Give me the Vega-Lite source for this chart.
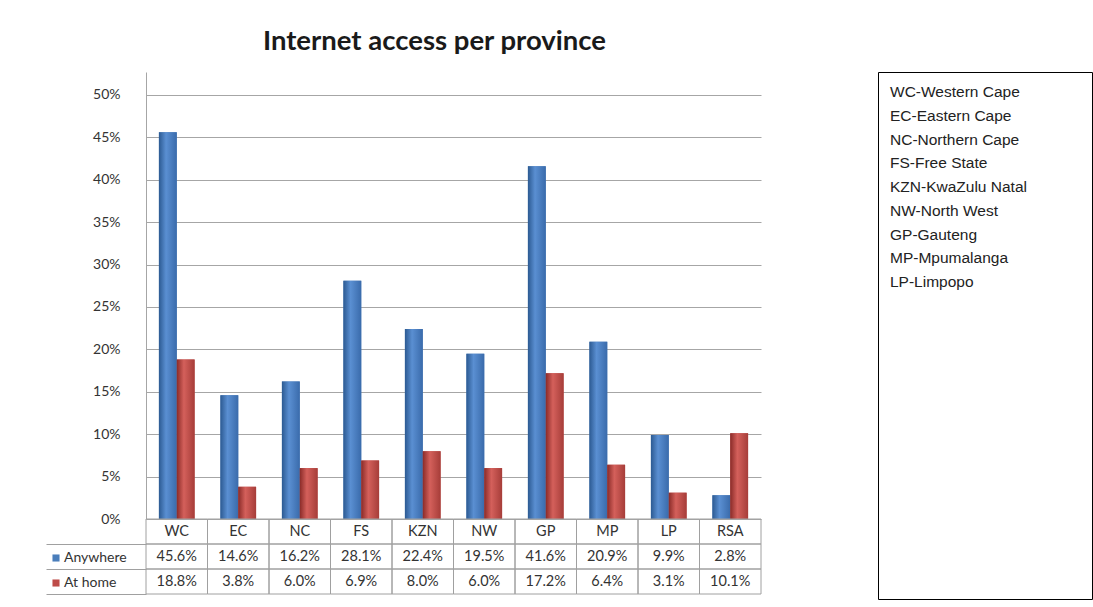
{
  "$schema": "https://vega.github.io/schema/vega-lite/v6.json",
  "padding": {"left": 45, "top": 27, "right": 0, "bottom": 0},
  "autosize": {"type": "pad"},
  "config": {"view": {"stroke": null}, "font": "Lato"},
  "datasets": {
    "access": [
      {"province": "WC", "series": "Anywhere", "value": 0.456},
      {"province": "EC", "series": "Anywhere", "value": 0.146},
      {"province": "NC", "series": "Anywhere", "value": 0.162},
      {"province": "FS", "series": "Anywhere", "value": 0.281},
      {"province": "KZN", "series": "Anywhere", "value": 0.224},
      {"province": "NW", "series": "Anywhere", "value": 0.195},
      {"province": "GP", "series": "Anywhere", "value": 0.416},
      {"province": "MP", "series": "Anywhere", "value": 0.209},
      {"province": "LP", "series": "Anywhere", "value": 0.099},
      {"province": "RSA", "series": "Anywhere", "value": 0.028},
      {"province": "WC", "series": "At home", "value": 0.188},
      {"province": "EC", "series": "At home", "value": 0.038},
      {"province": "NC", "series": "At home", "value": 0.06},
      {"province": "FS", "series": "At home", "value": 0.069},
      {"province": "KZN", "series": "At home", "value": 0.08},
      {"province": "NW", "series": "At home", "value": 0.06},
      {"province": "GP", "series": "At home", "value": 0.172},
      {"province": "MP", "series": "At home", "value": 0.064},
      {"province": "LP", "series": "At home", "value": 0.031},
      {"province": "RSA", "series": "At home", "value": 0.101}
    ],
    "provinces": [
      {"name": "WC-Western Cape"},
      {"name": "EC-Eastern Cape"},
      {"name": "NC-Northern Cape"},
      {"name": "FS-Free State"},
      {"name": "KZN-KwaZulu Natal"},
      {"name": "NW-North West"},
      {"name": "GP-Gauteng"},
      {"name": "MP-Mpumalanga"},
      {"name": "LP-Limpopo"}
    ]
  },
  "spacing": 115,
  "hconcat": [
    {
      "spacing": 0,
      "bounds": "flush",
      "vconcat": [
        {
          "width": 615,
          "height": 447,
          "title": {"text": "Internet access per province", "fontSize": 27.5, "font": "Lato", "fontWeight": "bold", "color": "#1a1a1a", "offset": 17, "dx": -19, "anchor": "middle"},
          "data": {"name": "access"},
          "encoding": {
            "x": {"field": "province", "type": "nominal", "sort": ["WC", "EC", "NC", "FS", "KZN", "NW", "GP", "MP", "LP", "RSA"], "scale": {"paddingInner": 0.42, "paddingOuter": 0.21}, "axis": null},
            "xOffset": {"field": "series", "type": "nominal", "scale": {"domain": ["Anywhere", "At home"]}},
            "y": {"field": "value", "type": "quantitative", "scale": {"domain": [0, 0.5271], "nice": false},
              "axis": {"values": [0, 0.05, 0.1, 0.15, 0.2, 0.25, 0.3, 0.35, 0.4, 0.45, 0.5], "format": ".0%", "title": null, "ticks": false, "labelPadding": 26, "labelFontSize": 14, "labelColor": "#333333", "labelFont": "Lato", "gridColor": "#a6a6a6", "domainColor": "#a6a6a6"}}
          },
          "layer": [
            {
              "mark": {"type": "bar"},
              "encoding": {
                "color": {"field": "series", "type": "nominal", "scale": {"domain": ["Anywhere", "At home"], "range": ["#4a7ebb", "#be4b48"]},
                  "legend": {"title": null, "orient": "none", "legendX": -97, "legendY": 479, "symbolType": "square", "symbolSize": 50, "labelFontSize": 14, "labelFont": "Lato", "labelColor": "#333333", "rowPadding": 11, "labelOffset": 1, "symbolStrokeWidth": 0}}
              }
            },
            {
              "transform": [{"filter": "datum.series == 'Anywhere'"}],
              "mark": {"type": "bar", "cornerRadiusTop": 4, "fill": {"gradient": "linear", "x1": 0, "y1": 0, "x2": 1, "y2": 0, "stops": [{"offset": 0, "color": "#2c5a92"}, {"offset": 0.4, "color": "#5a8fd2"}, {"offset": 1, "color": "#3a6bab"}]}}
            },
            {
              "transform": [{"filter": "datum.series == 'At home'"}],
              "mark": {"type": "bar", "cornerRadiusTop": 4, "fill": {"gradient": "linear", "x1": 0, "y1": 0, "x2": 1, "y2": 0, "stops": [{"offset": 0, "color": "#8a2b28"}, {"offset": 0.4, "color": "#d4605b"}, {"offset": 1, "color": "#a63d39"}]}}
            }
          ]
        },
        {
          "width": 615,
          "height": 75,
          "data": {"name": "access"},
          "encoding": {
            "x": {"field": "province", "type": "nominal", "sort": ["WC", "EC", "NC", "FS", "KZN", "NW", "GP", "MP", "LP", "RSA"], "scale": {"paddingInner": 0, "paddingOuter": 0}, "axis": null}
          },
          "layer": [
            {
              "mark": {"type": "rect", "fill": "transparent", "stroke": "#a0a0a0", "strokeWidth": 1},
              "encoding": {
                "y": {"field": "series", "type": "nominal", "scale": {"domain": ["cat", "Anywhere", "At home"], "paddingInner": 0, "paddingOuter": 0},
                  "axis": {"values": ["Anywhere", "At home"], "labels": false, "ticks": true, "tickSize": 100, "tickBand": "extent", "tickColor": "#a0a0a0", "domain": false, "title": null}}
              }
            },
            {
              "transform": [{"filter": "datum.series == 'Anywhere'"}],
              "mark": {"type": "rect", "fill": "transparent", "stroke": "#a0a0a0", "strokeWidth": 1},
              "encoding": {"y": {"datum": "cat", "type": "nominal"}}
            },
            {
              "mark": {"type": "text", "fontSize": 14.5, "font": "Lato", "color": "#333333"},
              "encoding": {
                "y": {"field": "series", "type": "nominal"},
                "text": {"field": "value", "type": "quantitative", "format": ".1%"}
              }
            },
            {
              "transform": [{"filter": "datum.series == 'Anywhere'"}],
              "mark": {"type": "text", "fontSize": 14.5, "font": "Lato", "color": "#333333"},
              "encoding": {
                "y": {"datum": "cat", "type": "nominal"},
                "text": {"field": "province", "type": "nominal"}
              }
            }
          ]
        }
      ]
    },
    {
      "width": 214,
      "height": 527,
      "view": {"stroke": "#000000", "strokeWidth": 1},
      "data": {"name": "provinces"},
      "mark": {"type": "text", "align": "left", "font": "Liberation Sans", "fontSize": 15.5, "color": "#222222", "x": 12},
      "encoding": {
        "y": {"field": "name", "type": "ordinal", "sort": null, "scale": {"type": "point", "range": [20, 210], "padding": 0}, "axis": null},
        "text": {"field": "name", "type": "nominal"}
      }
    }
  ]
}
